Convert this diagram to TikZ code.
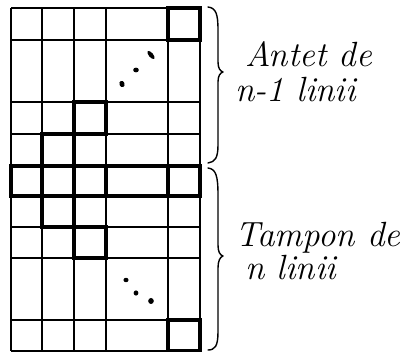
\documentclass[tikz,border=0pt]{standalone}
\usepackage{fontspec}
\begin{document}
\begin{tikzpicture}[x=1pt,y=-1pt]
\tikzset{
  gridline/.style={line width=1.2pt},
  boldline/.style={line width=3.4pt},
  bracestyle/.style={line width=1.4pt, line cap=round, line join=round},
  hand/.style={font=\fontsize{35}{42}\selectfont\itshape, inner sep=0pt, anchor=base west},
  blob/.style={fill=black}}
\useasboundingbox (0,0) rectangle (402,352);
% thin grid
\foreach \y in {8,40,102,134,166,196,227,258,320,351}
  \draw[gridline] (11,\y) -- (200,\y);
\foreach \x in {11,42,74,106,168,200}
  \draw[gridline] (\x,8) -- (\x,351);
% bold cells
\draw[boldline] (168,8) rectangle (200,40);
\draw[boldline] (74,102) rectangle (106,134);
\draw[boldline] (42,134) rectangle (74,166);
\draw[boldline] (11,166) rectangle (200,196);
\foreach \x in {42,74,106,168} \draw[boldline] (\x,166) -- (\x,196);
\draw[boldline] (42,196) rectangle (74,227);
\draw[boldline] (74,227) rectangle (106,258);
\draw[boldline] (168,320) rectangle (200,351);
% dots
\fill[blob] (122,84) ellipse [x radius=2.6pt, y radius=3.2pt, rotate=20];
\fill[blob] (136,70) ellipse [x radius=2.8pt, y radius=2.4pt];
\fill[blob, rotate around={-50:(151,55)}] (151,55) ellipse [x radius=5pt, y radius=2.2pt];
\fill[blob] (126,280) ellipse [x radius=2.6pt, y radius=2.2pt];
\fill[blob] (136,293) ellipse [x radius=2.4pt, y radius=2.6pt];
\fill[blob] (151,301) ellipse [x radius=2.8pt, y radius=3pt];
% braces
\draw[bracestyle] (208,7) .. controls (216,8) and (218,14) .. (218,30)
  -- (218,62) .. controls (218,68) and (220,71) .. (223,72)
  .. controls (220,73) and (218,76) .. (218,82)
  -- (218,145) .. controls (218,158) and (215,162) .. (208,163);
\draw[bracestyle] (208,168) .. controls (216,169) and (218,176) .. (218,195)
  -- (218,245) .. controls (218,252) and (220,255) .. (223,256)
  .. controls (220,257) and (218,261) .. (218,268)
  -- (218,332) .. controls (218,346) and (215,350) .. (208,350);
% labels
\node[hand] (t1) at (245,67) {Antet de};
\node[hand] (t2) at (235,102) {n-1 linii};
\node[hand] (t3) at (235,247) {Tampon de};
\node[hand] (t4) at (245,280) {n linii};
\end{tikzpicture}
\end{document}
